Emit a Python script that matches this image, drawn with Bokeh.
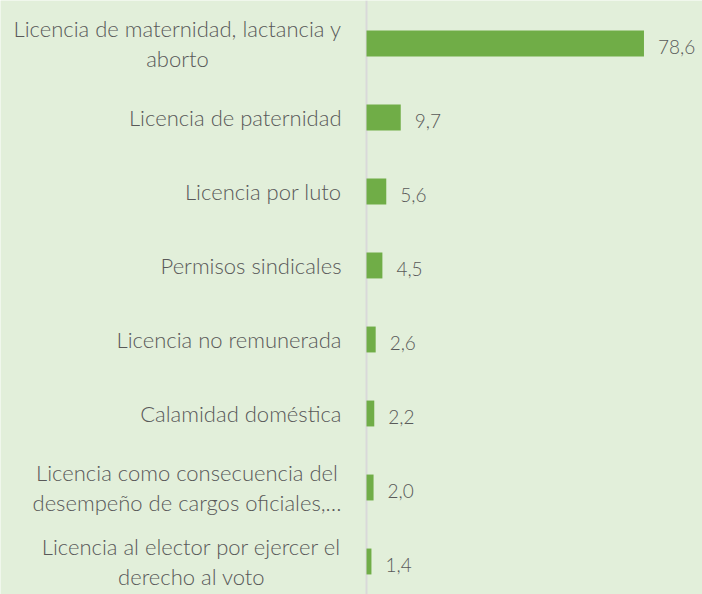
from bokeh.plotting import figure
from bokeh.models import Range1d, Span, ColumnDataSource
from bokeh.core.properties import value
from bokeh.embed import file_html
from bokeh.resources import INLINE

categories = [
    "Licencia de maternidad, lactancia y\naborto",
    "Licencia de paternidad",
    "Licencia por luto",
    "Permisos sindicales",
    "Licencia no remunerada",
    "Calamidad doméstica",
    "Licencia como consecuencia del\ndesempeño de cargos oficiales,…",
    "Licencia al elector por ejercer el\nderecho al voto",
]
values = [78.6, 9.7, 5.6, 4.5, 2.6, 2.2, 2.0, 1.4]
value_labels = [f"{v:.1f}".replace(".", ",") for v in values]

BG = "#E2EFDA"
BAR = "#70AD47"
TXT = "#595959"
FONT = "Lato Light"

idx = list(range(len(categories)))
src = ColumnDataSource(dict(y=idx, v=values, cat=categories, lab=value_labels))

W, H = 702, 594
p = figure(width=W, height=H, output_backend="svg", toolbar_location=None,
           x_range=Range1d(-103.68, 95.18), y_range=Range1d(7.446, -0.581),
           min_border=0, min_border_left=0, min_border_right=0,
           min_border_top=0, min_border_bottom=0)
p.background_fill_color = BG
p.border_fill_color = BG
p.outline_line_color = None
p.axis.visible = False
p.grid.visible = False

p.add_layout(Span(location=0, dimension="height", line_color="#D9D9D9",
                  line_width=2, level="underlay"))

p.hbar(y="y", left=0, right="v", height=0.35, source=src,
       fill_color=BAR, line_color=None)

p.text(x=0, y="y", text="cat", source=src, x_offset=-25,
       anchor="center_right", text_align="center",
       text_font=value(FONT), text_font_size="22px", text_color=TXT,
       text_line_height=1.12)

p.text(x="v", y="y", text="lab", source=src, x_offset=14, y_offset=4,
       text_align="left", text_baseline="middle",
       text_font=value(FONT), text_font_size="19px", text_color=TXT)

open("out.html", "w").write(file_html(p, INLINE))
